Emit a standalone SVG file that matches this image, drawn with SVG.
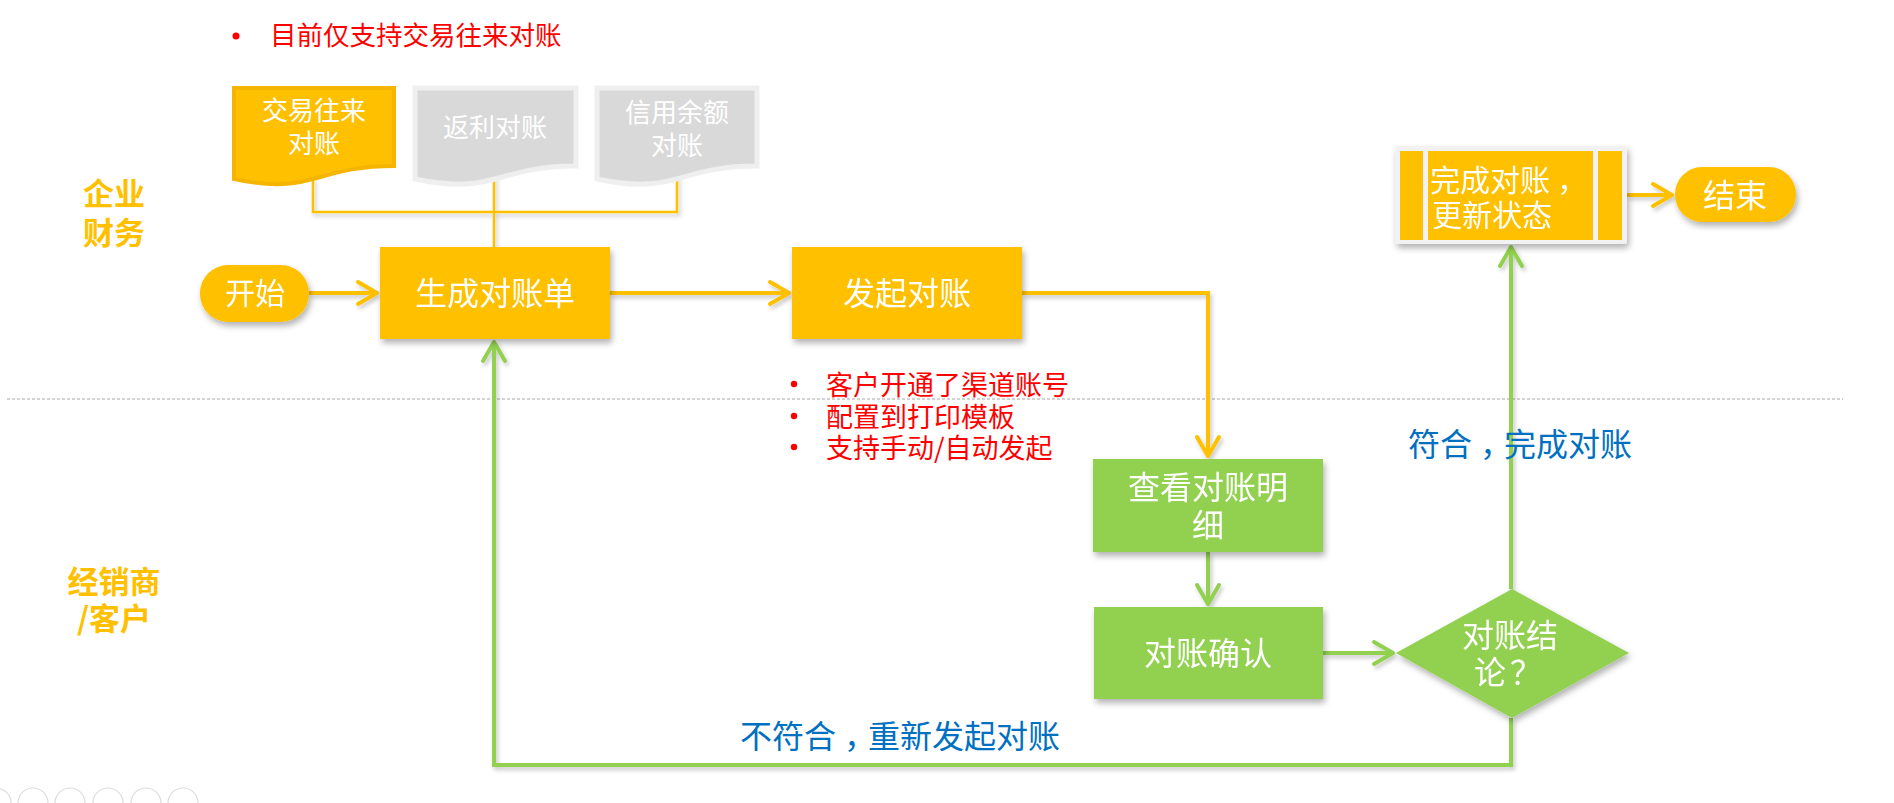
<svg xmlns="http://www.w3.org/2000/svg" width="1894" height="803" viewBox="0 0 1894 803">
<style>
text{font-family:"Microsoft YaHei","Noto Sans CJK SC","Noto Sans",sans-serif}
.w{fill:#FFFFFF;text-anchor:middle}
.f32{font-size:32px}
.f30{font-size:30px}
.f26{font-size:26px}
.lane{fill:#FFC000;font-size:31px;font-weight:bold;text-anchor:middle}
.red{fill:#FF0000;font-size:27px}
.blue{fill:#0070C0;font-size:32px}
.y{fill:#FFC000}
.g{fill:#92D050}
.cy{fill:none;stroke:#FFC000;stroke-width:4;stroke-linejoin:miter}
.cg{fill:none;stroke:#92D050;stroke-width:4;stroke-linejoin:miter}
.thin{fill:none;stroke:#FFC000;stroke-width:2.5}
.docg{fill:#D9D9D9;stroke:#EFEFEF;stroke-width:5}
.docy{fill:#FFC000;stroke:#F5B400;stroke-width:4}
.icon{fill:none;stroke:#DCDCDC;stroke-width:1.2}
</style>
<defs>
<filter id="sh" x="-20%" y="-20%" width="140%" height="150%">
<feDropShadow dx="2" dy="4" stdDeviation="3" flood-color="#000000" flood-opacity="0.3"/>
</filter>
<filter id="lsh" x="-20%" y="-20%" width="140%" height="140%">
<feDropShadow dx="2" dy="3" stdDeviation="2" flood-color="#000000" flood-opacity="0.22"/>
</filter>
<marker id="ay" viewBox="-24 -14 28 28" refX="0" refY="0" markerWidth="28" markerHeight="28" markerUnits="userSpaceOnUse" orient="auto">
<path d="M-20,-11 L-1,0 L-20,11" fill="none" stroke="#FFC000" stroke-width="4" stroke-linecap="round" stroke-linejoin="round"/>
</marker>
<marker id="ag" viewBox="-24 -14 28 28" refX="0" refY="0" markerWidth="28" markerHeight="28" markerUnits="userSpaceOnUse" orient="auto">
<path d="M-20,-11 L-1,0 L-20,11" fill="none" stroke="#92D050" stroke-width="4" stroke-linecap="round" stroke-linejoin="round"/>
</marker>
</defs>

<rect width="1894" height="803" fill="#FFFFFF"/>

<!-- swimlane separator and labels -->
<g id="lanes">
<line x1="7" y1="399" x2="1843" y2="399" stroke="#A6A6A6" stroke-width="1" stroke-dasharray="3,2"/>
<text class="lane" x="114" y="205">企业</text>
<text class="lane" x="114" y="244">财务</text>
<text class="lane" x="114" y="593">经销商</text>
<text class="lane" x="114" y="630">/客户</text>
</g>

<!-- notes -->
<g id="note-top">
<circle cx="236" cy="36" r="3.5" fill="#FF0000"/>
<text class="red" x="270" y="45" font-size="26.5" style="font-size:26.5px">目前仅支持交易往来对账</text>
</g>
<g id="note-mid">
<circle cx="794" cy="384" r="3.2" fill="#FF0000"/>
<circle cx="794" cy="416" r="3.2" fill="#FF0000"/>
<circle cx="794" cy="447" r="3.2" fill="#FF0000"/>
<text class="red" x="826" y="395">客户开通了渠道账号</text>
<text class="red" x="826" y="427">配置到打印模板</text>
<text class="red" x="826" y="458">支持手动/自动发起</text>
</g>

<!-- connectors -->
<g id="connectors" filter="url(#lsh)">
<polyline class="thin" points="313,178 313,212 677,212 677,176"/>
<line class="thin" x1="494" y1="174" x2="494" y2="247"/>
<line class="cy" x1="309" y1="293" x2="378" y2="293" marker-end="url(#ay)"/>
<line class="cy" x1="610" y1="293" x2="790" y2="293" marker-end="url(#ay)"/>
<polyline class="cy" points="1022,293 1208,293 1208,457" marker-end="url(#ay)"/>
<line class="cy" x1="1627" y1="195" x2="1673" y2="195" marker-end="url(#ay)"/>
<line class="cg" x1="1208" y1="552" x2="1208" y2="605" marker-end="url(#ag)"/>
<line class="cg" x1="1323" y1="653" x2="1394" y2="653" marker-end="url(#ag)"/>
<line class="cg" x1="1511" y1="589" x2="1511" y2="246" marker-end="url(#ag)"/>
<polyline class="cg" points="1511,718 1511,765 494,765 494,341" marker-end="url(#ag)"/>
</g>

<!-- connector labels -->
<g id="labels">
<text class="blue" x="1408" y="456">符合<tspan dx="8">，</tspan><tspan dx="-8">完成对账</tspan></text>
<text class="blue" x="740" y="748">不符合<tspan dx="8">，</tspan><tspan dx="-8">重新发起对账</tspan></text>
</g>

<!-- documents -->
<g id="doc1">
<path class="docy" d="M234,88 H394 V166 C314,166 314,196 234,179 Z"/>
<text class="w f26" x="314" y="120">交易往来</text>
<text class="w f26" x="314" y="153">对账</text>
</g>
<g id="doc2">
<path class="docg" d="M415,88 H576 V166 C496,166 496,196 415,179 Z"/>
<text class="w f26" x="495" y="137">返利对账</text>
</g>
<g id="doc3">
<path class="docg" d="M597,88 H757 V166 C677,166 677,196 597,179 Z"/>
<text class="w f26" x="677" y="122">信用余额</text>
<text class="w f26" x="677" y="155">对账</text>
</g>

<!-- nodes -->
<g id="start" filter="url(#sh)">
<rect class="y" x="200" y="265" width="109" height="57" rx="28"/>
<text class="w f30" x="255" y="304">开始</text>
</g>
<g id="generate" filter="url(#sh)">
<rect class="y" x="380" y="247" width="230" height="92"/>
<text class="w f32" x="495" y="305">生成对账单</text>
</g>
<g id="initiate" filter="url(#sh)">
<rect class="y" x="792" y="247" width="230" height="92"/>
<text class="w f32" x="907" y="305">发起对账</text>
</g>
<g id="view" filter="url(#sh)">
<rect class="g" x="1093" y="459" width="230" height="93"/>
<text class="w f32" x="1208" y="499">查看对账明</text>
<text class="w f32" x="1208" y="537">细</text>
</g>
<g id="confirm" filter="url(#sh)">
<rect class="g" x="1094" y="607" width="229" height="92"/>
<text class="w f32" x="1208" y="665">对账确认</text>
</g>
<g id="decision" filter="url(#sh)">
<polygon class="g" points="1396,653 1512,589 1629,653 1512,718"/>
<text class="w f32" x="1510" y="647">对账结</text>
<text class="w f32" x="1508" y="684">论<tspan dx="4">？</tspan></text>
</g>
<g id="complete" filter="url(#sh)">
<rect x="1395" y="146" width="232" height="98" rx="3" fill="#F2F2F2"/>
<rect class="y" x="1400" y="151" width="23" height="89"/>
<rect class="y" x="1428" y="151" width="165" height="89"/>
<rect class="y" x="1598" y="151" width="24" height="89"/>
<text x="1430" y="191" fill="#FFFFFF" font-size="30">完成对账<tspan dx="7">，</tspan></text>
<text x="1432" y="226" fill="#FFFFFF" font-size="30">更新状态</text>
</g>
<g id="end" filter="url(#sh)">
<rect class="y" x="1675" y="167" width="121" height="55" rx="27"/>
<text class="w f32" x="1735" y="207">结束</text>
</g>

<!-- slideshow toolbar remnants -->
<g id="toolbar">
<circle class="icon" cx="-4" cy="803" r="15"/>
<circle class="icon" cx="33" cy="803" r="15"/>
<circle class="icon" cx="70" cy="803" r="15"/>
<circle class="icon" cx="108" cy="803" r="15"/>
<circle class="icon" cx="146" cy="803" r="15"/>
<circle class="icon" cx="183" cy="803" r="15"/>
</g>
</svg>
